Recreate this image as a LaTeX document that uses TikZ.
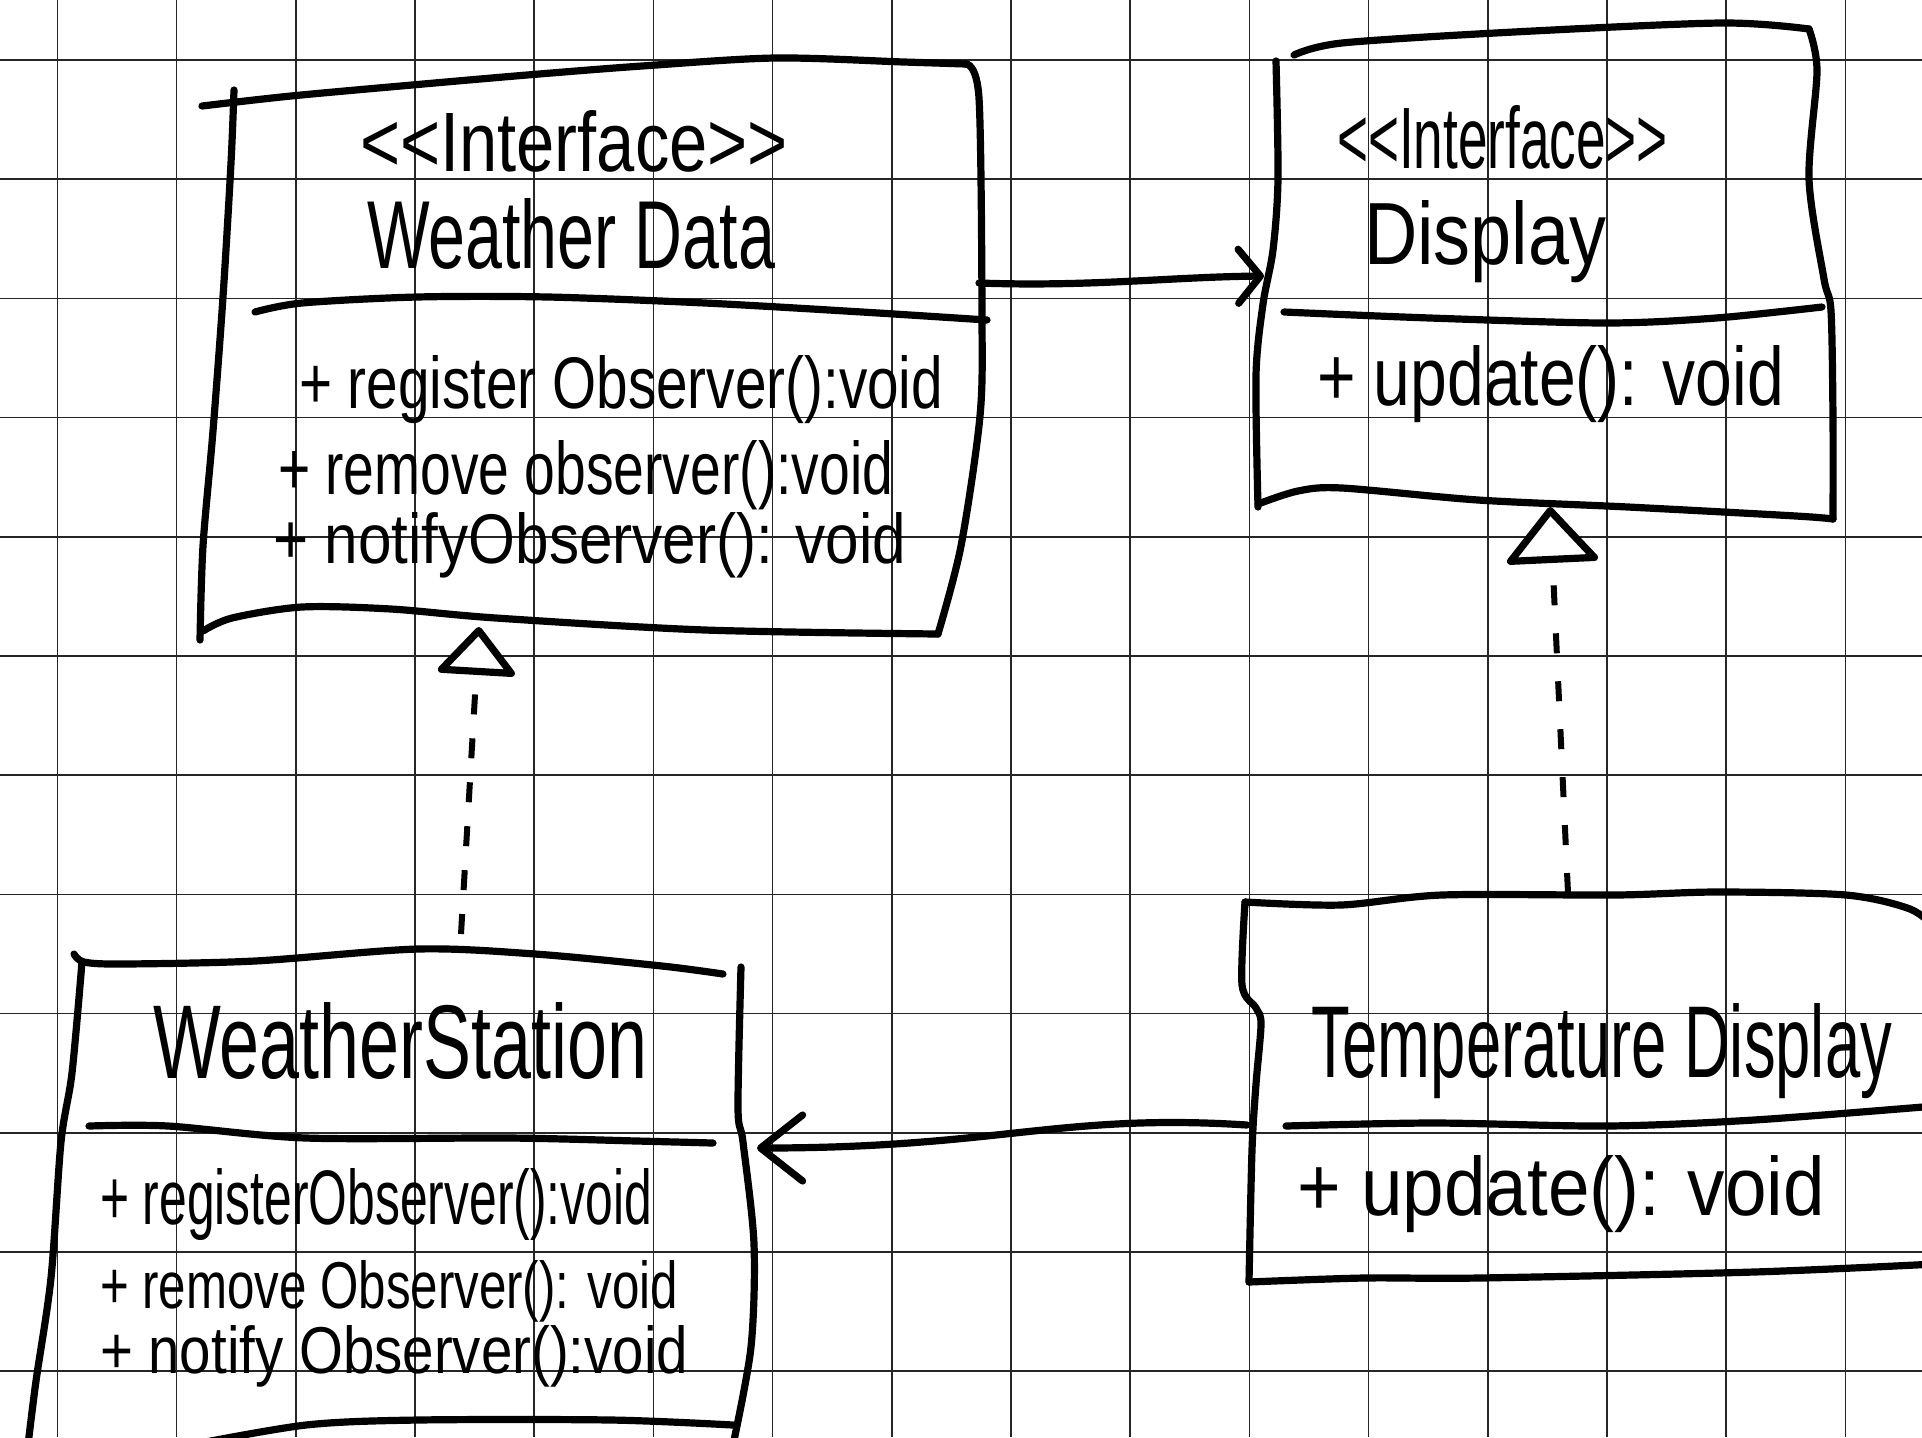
\documentclass[tikz,border=0pt]{standalone}
\usepackage{fontspec}
\setmainfont{Liberation Sans}
\usepackage{graphicx}
\usetikzlibrary{arrows.meta}
\newcommand{\hwtext}[3]{\resizebox{#1pt}{#2pt}{#3}}
\begin{document}
\begin{tikzpicture}[x=0.5pt,y=-0.5pt,
  gridline/.style={line width=0.8pt, black!85},
  pen/.style={line width=3.6pt, line cap=round, line join=round, black},
  lbl/.style={inner sep=0pt, outer sep=0pt, anchor=base west, black},
  assocbig/.style={pen, -{Straight Barb[length=21pt, width=33pt, line width=3.6pt, round]}},
  assocsmall/.style={pen, -{Straight Barb[length=11pt, width=27pt, line width=3.6pt, round]}},
  realizeA/.style={line width=3pt, black, dash pattern=on 10pt off 12pt, -{Triangle[fill=white, length=25pt, width=42pt, line width=3.6pt, round]}},
  realizeB/.style={line width=3pt, black, dash pattern=on 10pt off 14pt, -{Triangle[fill=white, length=29pt, width=49pt, line width=3.6pt, round]}}
]
\path[use as bounding box] (0,0) rectangle (1922,1437);
\clip (0,0) rectangle (1922,1437);
\fill[white] (0,0) rectangle (1922,1437);
% grid
\foreach \k in {0,...,15} \draw[gridline] ({57.3+119.2*\k},0) -- ({57.3+119.2*\k},1437);
\foreach \k in {0,...,11} \draw[gridline] (0,{60+119.2*\k}) -- (1922,{60+119.2*\k});

% ---- WeatherData box
\draw[pen] plot[smooth, tension=0.5] coordinates {(202,106) (291,96) (412,85) (527,75) (642,66) (775,58) (904,62) (966,64)};
\draw[pen] plot[smooth, tension=0.5] coordinates {(966,64) (979,98) (982,316) (980,416) (961,546) (938,634)};
\draw[pen] plot[smooth, tension=0.5] coordinates {(938,634) (705,630) (496,618) (391,609) (302,607) (232,618) (203,631)};
\draw[pen] plot[smooth, tension=0.5] coordinates {(234,90) (231,163) (223,297) (213,431) (203,546) (200,640)};
\draw[pen] plot[smooth, tension=0.5] coordinates {(255,312) (302,303) (417,297) (548,297) (705,303) (862,312) (987,320)};

% ---- Display box
\draw[pen] plot[smooth, tension=0.5] coordinates {(1294,55) (1342,43) (1514,32) (1721,23) (1809,29)};
\draw[pen] plot[smooth, tension=0.5] coordinates {(1809,29) (1817,71) (1809,179) (1824,279) (1831,311) (1833,420) (1833,519)};
\draw[pen] plot[smooth, tension=0.5] coordinates {(1833,519) (1796,516) (1628,507) (1478,500) (1342,488) (1298,491) (1258,504)};
\draw[pen] plot[smooth, tension=0.5] coordinates {(1276,61) (1278,179) (1273,250) (1263,304) (1256,375) (1258,507)};
\draw[pen] plot[smooth, tension=0.5] coordinates {(1284,312) (1430,318) (1606,323) (1716,318) (1822,307)};

% ---- WeatherStation box
\draw[pen] plot[smooth, tension=0.5] coordinates {(74,954) (84,962) (122,964) (255,961) (418,949) (535,954) (662,966) (723,974)};
\draw[pen] plot[smooth, tension=0.5] coordinates {(82,962) (72,1073) (61,1142) (51,1278) (36,1381) (28,1445)};
\draw[pen] plot[smooth, tension=0.5] coordinates {(741,967) (738,1108) (743,1142) (754,1244) (751,1347) (733,1445)};
\draw[pen] plot[smooth, tension=0.5] coordinates {(89,1126) (168,1126) (306,1138) (509,1138) (637,1141) (713,1143)};
\draw[pen] plot[smooth, tension=0.5] coordinates {(190,1445) (306,1425) (418,1420) (611,1420) (733,1425)};

% ---- TemperatureDisplay box
\draw[pen] plot[smooth, tension=0.5] coordinates {(1245,902) (1341,905) (1442,895) (1616,895) (1717,892) (1846,895) (1910,909) (1935,928)};
\draw[pen] plot[smooth, tension=0.5] coordinates {(1245,902) (1242,985) (1256,1008) (1261,1024) (1256,1084) (1252,1150) (1249,1282)};
\draw[pen] plot[smooth, tension=0.5] coordinates {(1286,1126) (1433,1123) (1607,1126) (1754,1120) (1935,1106)};
\draw[pen] plot[smooth, tension=0.5] coordinates {(1249,1282) (1364,1278) (1479,1278) (1754,1272) (1935,1264)};

% ---- texts
\node[lbl] (wdStereo) at (360,171) {\hwtext{214}{30.5}{<\kern0pt<Interface>\kern0pt>}};
\node[lbl] (wdName) at (367,268) {\hwtext{204}{35}{Weather Data}};
\node[lbl] (wdM1) at (299,408) {\hwtext{322}{26.5}{+ register Observer():void}};
\node[lbl] (wdM2) at (278,494) {\hwtext{307.5}{27}{+ remove observer():void}};
\node[lbl] (wdM3) at (273,563) {\hwtext{316.5}{25.5}{+ notifyObserver(): void}};

\node[lbl] (dispStereo) at (1337,168) {\hwtext{165.5}{31.5}{<\kern0pt<Interface>\kern0pt>}};
\node[lbl] (dispName) at (1364,264) {\hwtext{121}{32}{Display}};
\node[lbl] (dispM1) at (1317,405) {\hwtext{233.5}{30}{+ update(): void}};

\node[lbl] (wsName) at (153,1078) {\hwtext{247}{38}{WeatherStation}};
\node[lbl] (wsM1) at (100,1224) {\hwtext{276}{28}{+ registerObserver():void}};
\node[lbl] (wsM2) at (100,1308) {\hwtext{289}{24}{+ remove Observer(): void}};
\node[lbl] (wsM3) at (100,1373) {\hwtext{294}{24}{+ notify Observer():void}};

\node[lbl] (tdName) at (1311,1077) {\hwtext{290.5}{37}{Temperature Display}};
\node[lbl] (tdM1) at (1297,1215) {\hwtext{264}{30}{+ update(): void}};

% ---- connector end points
\coordinate (wdR) at (979,283);
\coordinate (dispL) at (1264,276);
\coordinate (tdL) at (1247,1125);
\coordinate (wsR) at (757,1148);
\coordinate (wsT) at (461,934);
\coordinate (wdB) at (479,627);
\coordinate (tdT) at (1568,893);
\coordinate (dispB) at (1550,507);

% ---- connectors
\draw[assocsmall] (wdR) .. controls (1090,287) and (1170,277) .. (dispL);
\draw[assocbig] (tdL) .. controls (1060,1113) and (1000,1148) .. (wsR);
\draw[realizeA] (wsT) -- (wdB);
\draw[realizeB] (tdT) -- (dispB);
\end{tikzpicture}
\end{document}
